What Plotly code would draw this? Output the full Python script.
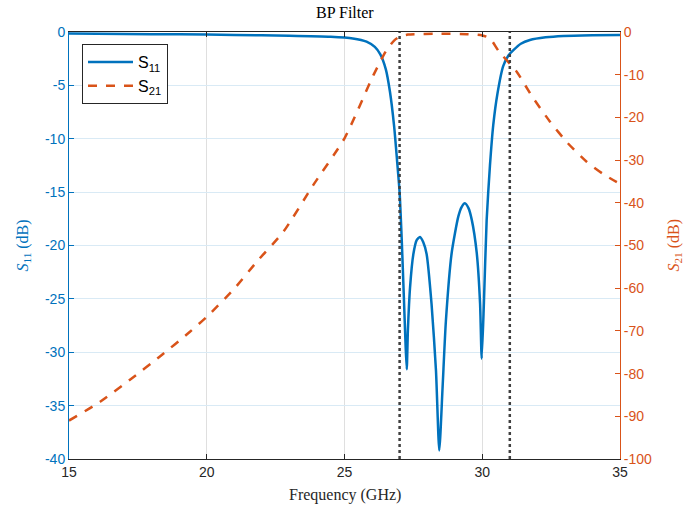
import plotly.graph_objects as go

# S11 data (GHz, dB)
s11_freq = [15.0, 17.0, 19.0, 21.0, 23.0, 24.5, 25.3, 25.8, 26.1, 26.3, 26.5, 26.65, 26.8, 26.9,
            27.0, 27.08, 27.15, 27.22, 27.26, 27.30, 27.38, 27.5, 27.62, 27.74, 27.86, 27.98,
            28.16, 28.32, 28.44, 28.56, 28.68, 28.89, 29.13, 29.25, 29.37, 29.5, 29.62, 29.8,
            29.92, 29.98, 30.06, 30.16, 30.28, 30.4, 30.55, 30.76, 30.95, 31.13, 31.4, 31.73,
            32.3, 32.94, 34.0, 35.0]
s11_db = [-0.15, -0.18, -0.22, -0.27, -0.35, -0.45, -0.6, -0.9, -1.4, -2.1, -3.5, -5.6, -8.8, -11.8,
          -15.0, -19.6, -24.5, -29.5, -31.6, -28.0, -23.9, -20.8, -19.5, -19.2, -19.7, -20.8,
          -25.5, -31.7, -39.2, -33.3, -27.1, -20.7, -17.3, -16.4, -16.05, -16.5, -17.6, -20.7,
          -25.4, -30.6, -25.4, -17.6, -12.5, -8.7, -5.8, -3.2, -2.2, -1.7, -1.1, -0.75,
          -0.5, -0.37, -0.3, -0.28]

# S21 data (GHz, dB)
s21_freq = [15.0, 16.13, 17.2, 18.3, 19.39, 20.0, 20.96, 21.87, 22.78, 23.87, 25.0, 26.05, 26.5,
            26.8, 27.0, 27.3, 28.5, 29.5, 30.0, 30.28, 30.6, 31.25, 31.8, 32.46, 33.1, 33.79,
            34.4, 35.0]
s21_db = [-91.0, -86.6, -81.5, -76.0, -70.2, -66.7, -60.4, -53.4, -46.8, -35.8, -24.9, -10.1, -4.5,
          -2.0, -1.1, -0.6, -0.4, -0.5, -0.8, -1.5, -4.5, -9.3, -15.0, -21.0, -26.0, -30.4,
          -33.3, -35.6]

band_edges = [27, 31]

x_ticks = [15, 20, 25, 30, 35]
y1_ticks = [0, -5, -10, -15, -20, -25, -30, -35, -40]
y2_ticks = [0, -10, -20, -30, -40, -50, -60, -70, -80, -90, -100]

BLUE = "#0072BD"
ORANGE = "#D95319"
AX = "#262626"
SANS = "Liberation Sans, Arial, sans-serif"
SERIF = "Liberation Serif, Times New Roman, serif"

W, H = 684, 514
L, R, T, B = 69, 64, 32, 55
PW, PH = W - L - R, H - T - B

def px_x(p):
    return (p - L) / PW

def px_y(p):
    return (H - B - p) / PH

fig = go.Figure()
fig.add_trace(go.Scatter(x=s11_freq, y=s11_db, mode="lines", name="S<sub>11</sub>",
                         line=dict(color=BLUE, width=2.5, shape="spline", smoothing=0.6),
                         yaxis="y"))
fig.add_trace(go.Scatter(x=s21_freq, y=s21_db, mode="lines", name="S<sub>21</sub>",
                         line=dict(color=ORANGE, width=2.5, dash="dash", shape="spline", smoothing=0.6),
                         yaxis="y2"))

for f in band_edges:
    fig.add_shape(type="line", xref="x", yref="paper", x0=f, x1=f, y0=0, y1=1,
                  line=dict(color="#404040", width=2.5, dash="dot"), layer="above")

annotations = [
    dict(text="BP Filter", xref="paper", yref="paper", x=0.5, y=px_y(13), xanchor="center",
         yanchor="middle", showarrow=False, font=dict(family=SERIF, size=16, color="black")),
    dict(text="Frequency (GHz)", xref="paper", yref="paper", x=0.5, y=px_y(495), xanchor="center",
         yanchor="middle", showarrow=False, font=dict(family=SERIF, size=16, color=AX)),
    dict(text="<i>S</i><sub>11</sub> (dB)", xref="paper", yref="paper", x=px_x(23), y=0.5,
         xanchor="center", yanchor="middle", textangle=-90, showarrow=False,
         font=dict(family=SERIF, size=16, color=BLUE)),
    dict(text="<i>S</i><sub>21</sub> (dB)", xref="paper", yref="paper", x=px_x(674), y=0.5,
         xanchor="center", yanchor="middle", textangle=-90, showarrow=False,
         font=dict(family=SERIF, size=16, color=ORANGE)),
]

fig.update_layout(
    width=W, height=H,
    margin=dict(l=L, r=R, t=T, b=B, autoexpand=False),
    paper_bgcolor="white", plot_bgcolor="white",
    showlegend=True,
    annotations=annotations,
    legend=dict(x=px_x(82), y=px_y(44), xanchor="left", yanchor="top", bgcolor="white",
                bordercolor=AX, borderwidth=1, font=dict(family=SANS, size=16, color="black"),
                tracegroupgap=0, itemwidth=45),
    xaxis=dict(range=[15, 35], tickvals=x_ticks, ticktext=[str(v) for v in x_ticks],
               ticks="inside", ticklen=5, tickcolor=AX, automargin=False,
               showline=True, linecolor=AX, linewidth=1, mirror="ticks",
               showgrid=True, gridcolor="#DFDFDF", gridwidth=1, zeroline=False,
               tickfont=dict(family=SANS, size=14, color=AX)),
    yaxis=dict(range=[-40, 0], tickvals=y1_ticks, ticktext=[str(v) for v in y1_ticks],
               ticks="inside", ticklen=5, tickcolor=BLUE, automargin=False,
               showline=True, linecolor=BLUE, linewidth=1,
               showgrid=True, gridcolor="#D9EAF5", gridwidth=1, zeroline=False,
               tickfont=dict(family=SANS, size=14, color=BLUE)),
    yaxis2=dict(range=[-100, 0], tickvals=y2_ticks, ticktext=[str(v) for v in y2_ticks],
                ticks="inside", ticklen=5, tickcolor=ORANGE, automargin=False,
                overlaying="y", side="right", anchor="x",
                showline=True, linecolor=ORANGE, linewidth=1,
                showgrid=False, zeroline=False,
                tickfont=dict(family=SANS, size=14, color=ORANGE)),
)

fig.write_html("out.html", config={"displayModeBar": False},
               post_script="document.body.style.margin='0';document.body.style.overflow='hidden';")
